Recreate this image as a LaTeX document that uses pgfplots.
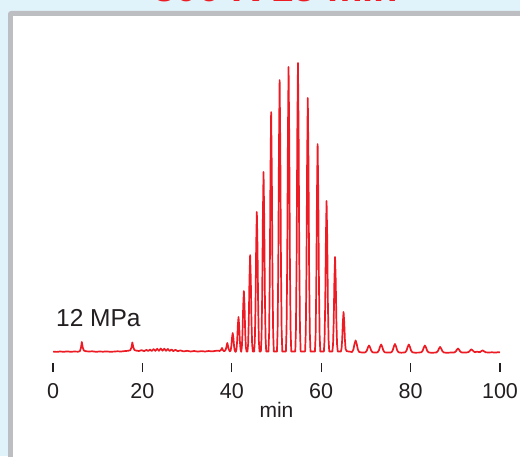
\documentclass[border=0pt]{standalone}
\usepackage{fontspec}
\setmainfont{Liberation Sans}
\usepackage{pgfplots}
\pgfplotsset{compat=1.18}
\definecolor{bgblue}{HTML}{E0F3FB}
\definecolor{panelgrey}{HTML}{BDBEC2}
\definecolor{tracered}{HTML}{ED1C24}
\definecolor{textgrey}{HTML}{231F20}

\begin{document}
\begin{tikzpicture}[x=1pt,y=1pt]
\useasboundingbox (0,0) rectangle (520,456);
\clip (0,0) rectangle (520,456);
\fill[bgblue] (0,0) rectangle (520,456);
\fill[panelgrey, rounded corners=3pt] (8,-10) rectangle (530,445);
\fill[white] (13,-10) rectangle (530,440);
% title: only the foot of its letters shows above the panel
\node[anchor=base, text=tracered, font=\fontsize{40}{40}\selectfont\bfseries, inner sep=0]
  at (276,454.5) {300 K 15 min};
\node[anchor=base west, inner sep=0, text=textgrey, font=\fontsize{24.5}{24.5}\selectfont]
  at (56,129.3) {12 MPa};
\begin{axis}[
  at={(53pt,88.5pt)}, anchor=south west,
  scale only axis, width=447pt, height=315.5pt,
  xmin=0, xmax=100, ymin=-15.5, ymax=300,
  axis line style={draw=none},
  xtick={0,20,...,100}, xtick pos=bottom, ytick=\empty,
  xtick align=center, major tick length=9pt,
  tick style={textgrey, line width=1.3pt},
  /pgf/number format/assume math mode=true,
  xticklabel style={anchor=center, yshift=-19pt, text=textgrey,
    font=\fontsize{21.5}{21.5}\selectfont},
  xlabel={min},
  xlabel style={at={(axis description cs:0.5,0)}, anchor=center, yshift=-42.5pt,
    text=textgrey, font=\fontsize{21}{21}\selectfont},
]
\addplot[tracered, line width=1.7pt, line join=round] coordinates {
(0,0.4) (0.8,0.1) (1.6,0.5) (2.4,0.2) (3.2,0.6) (4.0,0.2) (4.8,0.5) (5.6,0.3)
(6.0,0.8) (6.25,4) (6.45,10) (6.65,4.5) (6.9,1.5) (7.3,0.8) (8.0,0.5) (8.8,0.7)
(9.6,0.2) (10.4,0.5) (11.2,0.3) (12.0,0.6) (12.8,0.2) (13.6,0.4) (14.4,0.7)
(15.2,0.5) (16.0,0.9) (16.8,1.2) (17.3,1.8) (17.55,4.5) (17.75,9.5) (17.95,5)
(18.2,2) (18.6,1.4) (19.2,1.0) (19.8,1.8) (20.4,0.9) (20.9,2.1) (21.3,1.0)
(21.7,2.4) (22.1,1.0) (22.5,2.9) (22.9,1.1) (23.3,3.2) (23.7,1.2) (24.1,3.5)
(24.5,1.3) (24.9,3.3) (25.3,1.2) (25.7,3.0) (26.1,1.0) (26.5,2.6) (26.9,0.9)
(27.4,2.2) (27.9,0.8) (28.5,1.6) (29.2,0.6) (30.0,1.2) (30.8,0.5) (31.6,1.0)
(32.4,0.4) (33.2,0.9) (34.0,0.5) (34.8,1.0) (35.6,0.6) (36.3,1.1) (36.9,1.4)
(37.3,1.0)
(37.6,2.2) (37.8,4) (38.0,2) (38.25,0.8)
(38.55,1.5) (38.75,4) (38.9,7.5) (39.0,9) (39.1,7) (39.3,3) (39.55,0.6)
(39.75,1.5) (39.9,6.1) (40.05,14.3) (40.2,19) (40.35,14.3) (40.5,6.1) (40.65,1.5) (40.8,0.3)
(40.9,0.2) (41.05,2.8) (41.2,11.2) (41.35,26.3) (41.5,35) (41.65,26.3) (41.8,11.2) (41.95,2.8) (42.1,0.2)
(42.25,4.9) (42.4,19.5) (42.55,45.8) (42.7,61) (42.85,45.8) (43.0,19.5) (43.15,4.9) (43.3,0.5)
(43.5,0.5) (43.65,7.8) (43.8,31) (43.95,72.8) (44.1,97) (44.25,72.8) (44.4,31) (44.55,7.8) (44.7,0.5)
(45.0,0.5) (45.15,11.2) (45.3,44.8) (45.45,105) (45.6,140) (45.75,105) (45.9,44.8) (46.05,11.2) (46.2,0.5)
(46.5,0.5) (46.65,14.4) (46.8,57.6) (46.95,135) (47.1,180) (47.25,135) (47.4,57.6) (47.55,14.4) (47.7,0.5)
(48.2,0.5) (48.35,19.2) (48.5,76.8) (48.65,180) (48.8,240) (48.95,180) (49.1,76.8) (49.25,19.2) (49.4,0.5)
(50.1,0.5) (50.25,21.8) (50.4,87) (50.55,204) (50.7,272) (50.85,204) (51.0,87) (51.15,21.8) (51.3,0.5)
(52.1,0.5) (52.25,22.8) (52.4,91.2) (52.55,213.8) (52.7,285) (52.85,213.8) (53.0,91.2) (53.15,22.8) (53.3,0.5)
(54.2,0.5) (54.35,23.1) (54.5,92.5) (54.65,216.8) (54.8,289) (54.95,216.8) (55.1,92.5) (55.25,23.1) (55.4,0.5)
(56.4,0.5) (56.55,20.3) (56.7,81.3) (56.85,190.5) (57.0,254) (57.15,190.5) (57.3,81.3) (57.45,20.3) (57.6,0.5)
(58.6,0.5) (58.75,16.6) (58.9,66.6) (59.05,156) (59.2,208) (59.35,156) (59.5,66.6) (59.65,16.6) (59.8,0.5)
(60.6,0.5) (60.75,12.1) (60.9,48.3) (61.05,113.3) (61.2,151) (61.35,113.3) (61.5,48.3) (61.65,12.1) (61.8,0.5)
(62.5,0.5) (62.65,7.6) (62.8,30.4) (62.95,71.3) (63.1,95) (63.25,71.3) (63.4,30.4) (63.55,7.6) (63.7,0.5)
(64.4,0.5) (64.55,3.2) (64.7,12.8) (64.85,30) (65.0,40) (65.15,30) (65.3,12.8) (65.45,3.2) (65.7,0.8) (66.2,0.5)
(66.9,0) (67.2,2.5) (67.45,8) (67.7,11.5) (67.95,8) (68.2,2.5) (68.5,0) (69.0,-0.4) (69.6,-0.5)
(69.9,-0.3) (70.2,1.3) (70.45,4.5) (70.7,6.5) (70.95,4.5) (71.2,1.3) (71.5,-0.3) (72.0,-0.6) (72.4,-0.5)
(72.6,-0.3) (72.9,1.5) (73.15,5.2) (73.4,7.5) (73.65,5.2) (73.9,1.5) (74.2,-0.3) (74.8,-0.6) (75.4,-0.5)
(75.7,-0.3) (76.0,1.6) (76.25,5.5) (76.5,8) (76.75,5.5) (77.0,1.6) (77.3,-0.3) (77.9,-0.7) (78.5,-0.5)
(78.8,-0.3) (79.1,1.5) (79.35,5.2) (79.6,7.5) (79.85,5.2) (80.1,1.5) (80.4,-0.3) (81.0,-0.7) (81.8,-0.6) (82.1,-0.4)
(82.4,-0.3) (82.7,1.3) (82.95,4.5) (83.2,6.5) (83.45,4.5) (83.7,1.3) (84.0,-0.3) (84.6,-0.8) (85.4,-0.6)
(85.8,-0.4) (86.1,0.9) (86.35,3.4) (86.6,5) (86.85,3.4) (87.1,0.9) (87.4,-0.4) (88.0,-0.8) (88.8,-0.6) (89.5,-0.5)
(89.8,-0.4) (90.1,0.5) (90.35,2.3) (90.6,3.5) (90.85,2.3) (91.1,0.5) (91.4,-0.4) (92.0,-0.6) (92.6,-0.4)
(92.9,-0.2) (93.2,0.8) (93.4,2) (93.6,2.6) (93.8,2) (94.1,0.6) (94.4,-0.2) (94.8,0.4) (95.0,0.2)
(95.5,-0.2) (95.8,0.8) (96.1,1.6) (96.4,0.8) (96.8,-0.3) (97.5,-0.5) (98.2,-0.3) (99.0,-0.6) (99.6,-0.2) (100,-0.4)
};
\end{axis}
\end{tikzpicture}
\end{document}
